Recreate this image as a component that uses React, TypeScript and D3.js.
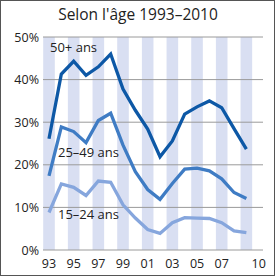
import React, { useEffect, useRef } from 'react';
import * as d3 from 'd3';

const years = [1993, 1994, 1995, 1996, 1997, 1998, 1999, 2000, 2001, 2002, 2003, 2004, 2005, 2006, 2007, 2008, 2009];
const age50 = [26.1, 41.3, 44.3, 41.0, 43.0, 46.0, 37.8, 32.8, 28.4, 21.9, 25.6, 31.9, 33.6, 35.0, 33.4, 28.5, 23.7];
const age25 = [17.4, 28.9, 27.8, 25.2, 30.4, 32.1, 24.6, 18.4, 14.2, 11.9, 15.6, 19.0, 19.2, 18.6, 16.7, 13.5, 12.1];
const age15 = [8.8, 15.5, 14.7, 12.8, 16.2, 15.9, 10.6, 7.5, 4.8, 3.9, 6.4, 7.6, 7.5, 7.4, 6.4, 4.5, 4.1];
const yTicks = [0, 10, 20, 30, 40, 50];
const xTicks = [1993, 1995, 1997, 1999, 2001, 2003, 2005, 2007, 2010];
const stripeYears = [1993, 1995, 1997, 1999, 2001, 2003, 2005, 2007, 2009];

const font = '"Open Sans", "Liberation Sans", sans-serif';

const App = () => {
    const svgRef = useRef(null);

    useEffect(() => {
        const svg = d3.select(svgRef.current);
        svg.selectAll('*').remove();

        const x = d3.scaleLinear().domain([1993, 2010]).range([49, 258.7]);
        const y = d3.scaleLinear().domain([0, 50]).range([250, 37]);
        const step = x(1994) - x(1993);

        // cadre
        svg.append('rect')
            .attr('x', 0.5).attr('y', 0.5)
            .attr('width', 274).attr('height', 275)
            .attr('fill', 'white')
            .attr('stroke', '#555')
            .attr('stroke-width', 1);

        // bandes
        svg.append('g').selectAll('rect')
            .data(stripeYears)
            .join('rect')
            .attr('x', d => x(d) - step * 0.47)
            .attr('y', y(50))
            .attr('width', step * 0.94)
            .attr('height', y(0) - y(50))
            .attr('fill', '#d9dff2');

        // grille
        svg.append('g').selectAll('line')
            .data(yTicks)
            .join('line')
            .attr('x1', 43).attr('x2', 263)
            .attr('y1', d => y(d)).attr('y2', d => y(d))
            .attr('stroke', '#9a9a9a')
            .attr('stroke-width', 1);

        svg.append('g').selectAll('text')
            .data(yTicks)
            .join('text')
            .attr('x', 39)
            .attr('y', d => y(d) + 4.5)
            .attr('text-anchor', 'end')
            .attr('font-family', font)
            .attr('font-size', 12.5)
            .attr('fill', '#222')
            .text(d => `${d}%`);

        svg.append('g').selectAll('text')
            .data(xTicks)
            .join('text')
            .attr('x', d => x(d))
            .attr('y', 268)
            .attr('text-anchor', 'middle')
            .attr('font-family', font)
            .attr('font-size', 12.5)
            .attr('fill', '#222')
            .text(d => String(d).slice(2));

        const line = d3.line<number>()
            .x((_, i) => x(years[i]))
            .y(d => y(d));

        const series = [
            { values: age15, color: '#86a6dd', label: '15–24 ans', lx: 58, ly: 219 },
            { values: age25, color: '#3f7cc4', label: '25–49 ans', lx: 58, ly: 157 },
            { values: age50, color: '#0d58a6', label: '50+ ans', lx: 50, ly: 52 },
        ];

        series.forEach(s => {
            svg.append('path')
                .datum(s.values)
                .attr('fill', 'none')
                .attr('stroke', s.color)
                .attr('stroke-width', 3.3)
                .attr('stroke-linejoin', 'miter')
                .attr('d', line);
            svg.append('text')
                .attr('x', s.lx)
                .attr('y', s.ly)
                .attr('font-family', font)
                .attr('font-size', 13)
                .attr('fill', '#222')
                .text(s.label);
        });

        svg.append('text')
            .attr('x', 138)
            .attr('y', 20)
            .attr('text-anchor', 'middle')
            .attr('font-family', font)
            .attr('font-size', 15.5)
            .attr('fill', '#222')
            .text("Selon l'âge 1993–2010");
    }, []);

    return (
        <div style={{ position: 'fixed', left: 0, top: 0 }}>
            <svg ref={svgRef} width={276} height={279} style={{ display: 'block' }} />
        </div>
    );
};

export default App;
